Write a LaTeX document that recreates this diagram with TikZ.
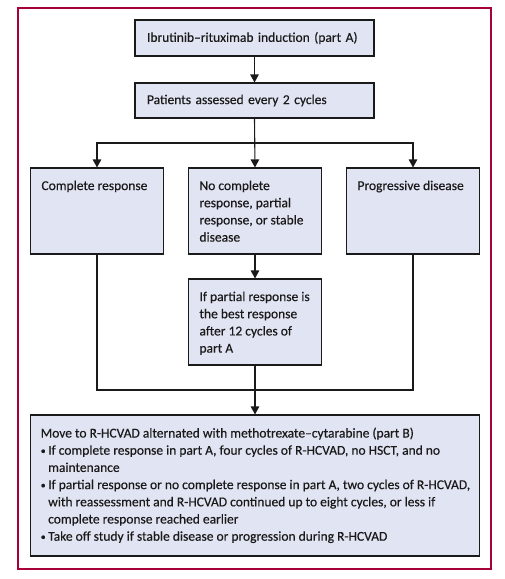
\documentclass[tikz,border=0pt]{standalone}
\usepackage{fontspec}
\setmainfont{Carlito}[FakeBold=0.35]
\usetikzlibrary{arrows.meta}
\definecolor{boxfill}{HTML}{E1E4F2}
\definecolor{frame}{HTML}{A8003A}
\definecolor{ink}{HTML}{1A1A1A}
\newcommand{\topbox}[3]{\parbox[c][#2pt][t]{#1pt}{\vspace*{10pt}\raggedright\strut #3}}
\newcommand{\mybul}{\llap{\raisebox{0.1ex}{\fontsize{10}{10}\selectfont •}\hspace{2.5pt}}}
\begin{document}
\begin{tikzpicture}[x=1pt,y=-1pt,
  every node/.style={font=\fontsize{13.5}{17.2}\selectfont, text=ink},
  box/.style={draw=ink, line width=1.1pt, fill=boxfill, rectangle},
  onebox/.style={box, text width=215pt, align=left, inner xsep=12pt, inner ysep=0pt, minimum height=#1},
  tallbox/.style={box, inner xsep=11pt, inner ysep=0pt},
  textline/.style={anchor=base west, inner sep=0pt},
  line/.style={draw=ink, line width=1.1pt},
  arr/.style={line, -{Triangle[width=8.5pt,length=8pt]}}]
\useasboundingbox (0,0) rectangle (504,579);
\draw[frame, line width=1.5pt] (18,8) rectangle (491,569);
\node[onebox=36pt] (b1) at (254.5,38) {Ibrutinib–rituximab induction (part A)};
\node[onebox=35pt] (b2) at (254.5,100.5) {Patients assessed every 2 cycles};
\node[tallbox] (b3) at (97,211) {\topbox{111}{86}{Complete response}};
\node[tallbox] (b4) at (255,211) {\topbox{111}{86}{No complete\\response, partial\\response, or stable\\disease}};
\node[tallbox] (b5) at (413,211) {\topbox{111}{86}{Progressive disease}};
\node[tallbox] (b6) at (255,322) {\topbox{111}{86}{If partial response is\\the best response\\after 12 cycles of\\part A}};
\node[box, minimum width=449pt, minimum height=141pt, inner sep=0pt] (b7) at (255,485.5) {};
\node[textline] (t0) at (40.5,437.5) {Move to R-HCVAD alternated with methotrexate–cytarabine (part B)};
\node[textline] (t1) at (48,454.7) {\mybul If complete response in part A, four cycles of R-HCVAD, no HSCT, and no};
\node[textline] (t2) at (48,471.9) {maintenance};
\node[textline] (t3) at (48,489.1) {\mybul If partial response or no complete response in part A, two cycles of R-HCVAD,};
\node[textline] (t4) at (48,506.3) {with reassessment and R-HCVAD continued up to eight cycles, or less if};
\node[textline] (t5) at (48,523.5) {complete response reached earlier};
\node[textline] (t6) at (48,540.7) {\mybul Take off study if stable disease or progression during R-HCVAD};
\coordinate (split) at (254.5,143);
\coordinate (join) at (255,390);
\draw[arr] (b1.south) -- (b2.north);
\draw[arr] (b2.south) -- (b4.north);
\draw[arr] (split) -| (b3.north);
\draw[arr] (split) -| (b5.north);
\draw[arr] (b4.south) -- (b6.north);
\draw[line] (b3.south) |- (join);
\draw[line] (b5.south) |- (join);
\draw[arr] (b6.south) -- (b7.north);
\end{tikzpicture}
\end{document}
